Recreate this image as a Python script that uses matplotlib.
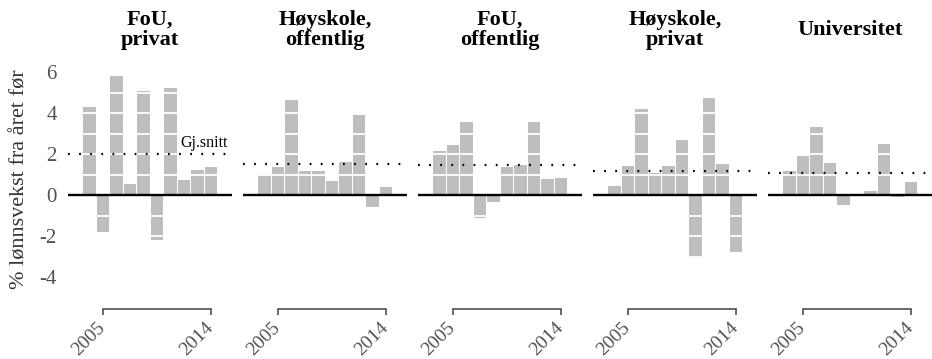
import numpy as np
import matplotlib
matplotlib.use("Agg")
import matplotlib.pyplot as plt
from matplotlib.transforms import ScaledTranslation

plt.rcParams['font.family'] = ['Liberation Serif', 'DejaVu Serif']

# sector titles and yearly wage growth (% from the year before)
titles = ["FoU,\nprivat", "Høyskole,\noffentlig", "FoU,\noffentlig", "Høyskole,\nprivat", "Universitet"]
fou_privat = [4.3, -1.82, 5.8, 0.54, 5.05, -2.21, 5.22, 0.75, 1.2, 1.35]
hoyskole_offentlig = [0.98, 1.38, 4.63, 1.17, 1.17, 0.67, 1.61, 3.9, -0.6, 0.39]
fou_offentlig = [2.16, 2.46, 3.58, -1.12, -0.34, 1.35, 1.45, 3.54, 0.76, 0.85]
hoyskole_privat = [0.46, 1.41, 4.2, 1.09, 1.43, 2.68, -3.07, 4.72, 1.53, -2.76]
universitet = [1.17, 1.92, 3.32, 1.54, -0.5, 0.02, 0.2, 2.47, -0.08, 0.65]
series = [fou_privat, hoyskole_offentlig, fou_offentlig, hoyskole_privat, universitet]

tick_idx = [1, 9]
tick_labels = ["2005", "2014"]
y_ticks = [6, 4, 2, 0, -2, -4]

W, H = 932, 359
grey_txt = "#505050"

fig = plt.figure(figsize=(W / 100, H / 100), dpi=100)

ymin, ymax = -5, 6.5
ppu = 20.5  # pixels per unit
zero_px = 195
top_px = zero_px - ymax * ppu
bot_px = zero_px - ymin * ppu
ax_b = (H - bot_px) / H
ax_h = (bot_px - top_px) / H
shift = ScaledTranslation(5 / 100, 0, fig.dpi_scale_trans)

for i, (name, vals) in enumerate(zip(titles, series)):
    left = 68 + 175 * i
    ax = fig.add_axes([left / W, ax_b, 164 / W, ax_h])
    x = np.arange(len(vals))
    ax.bar(x, vals, width=0.9, color="#bebebe", zorder=1)
    for yy in range(-5, 7):
        if yy != 0:
            ax.axhline(yy, color="white", lw=1.3, zorder=2)
    ax.axhline(0, color="black", lw=1.7, zorder=4)
    m = np.mean(vals)
    ax.axhline(m, color="black", lw=1.6, linestyle=(0, (0.8, 4.2)), zorder=5)
    if i == 0:
        ax.text(8.5, m + 0.12, "Gj.snitt", ha="center", va="bottom", fontsize=11.5, zorder=6)

    ax.set_xlim(-1.59, 10.56)
    ax.set_ylim(ymin, ymax)

    for s in ["top", "right", "left"]:
        ax.spines[s].set_visible(False)
    ax.spines["bottom"].set_bounds(tick_idx[0], tick_idx[-1])
    ax.spines["bottom"].set_position(("outward", 8))
    ax.spines["bottom"].set_color(grey_txt)
    ax.spines["bottom"].set_linewidth(1.2)
    ax.set_xticks(tick_idx)
    ax.set_xticklabels(tick_labels, rotation=45, ha="right", va="center",
                       rotation_mode="anchor", fontsize=14, color=grey_txt)
    for lab in ax.get_xticklabels():
        lab.set_transform(lab.get_transform() + shift)
    ax.tick_params(axis="x", direction="out", length=4, width=1.2, color=grey_txt, pad=8)

    if i == 0:
        ax.set_yticks(y_ticks)
        ax.set_yticklabels([str(t) for t in y_ticks], fontsize=15, color=grey_txt)
        ax.tick_params(axis="y", length=0, pad=8)
        ax.set_ylabel("% lønnsvekst fra året før", fontsize=16, color="#333333", labelpad=7)
    else:
        ax.set_yticks([])

    fig.text((left + 82) / W, (H - 30) / H, name, ha="center", va="center",
             fontsize=16, fontweight="bold", linespacing=1.05)

fig.savefig("out.png", dpi=100)
